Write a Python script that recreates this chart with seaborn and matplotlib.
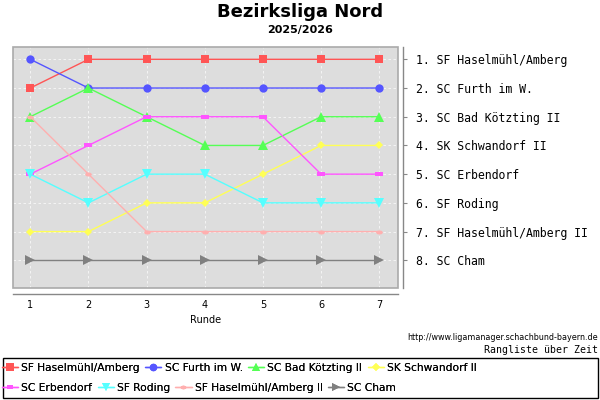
import matplotlib
matplotlib.use("Agg")
import matplotlib.pyplot as plt
import pandas as pd
import seaborn as sns
from matplotlib.lines import Line2D
from matplotlib.patches import Rectangle

# Data: rank per round
rounds = [1, 2, 3, 4, 5, 6, 7]
teams = ["SF Haselmühl/Amberg", "SC Furth im W.", "SC Bad Kötzting II", "SK Schwandorf II",
         "SC Erbendorf", "SF Roding", "SF Haselmühl/Amberg II", "SC Cham"]
ranks = {
    "SF Haselmühl/Amberg":    [2, 1, 1, 1, 1, 1, 1],
    "SC Furth im W.":         [1, 2, 2, 2, 2, 2, 2],
    "SC Bad Kötzting II":     [3, 2, 3, 4, 4, 3, 3],
    "SK Schwandorf II":       [7, 7, 6, 6, 5, 4, 4],
    "SC Erbendorf":           [5, 4, 3, 3, 3, 5, 5],
    "SF Roding":              [5, 6, 5, 5, 6, 6, 6],
    "SF Haselmühl/Amberg II": [3, 5, 7, 7, 7, 7, 7],
    "SC Cham":                [8, 8, 8, 8, 8, 8, 8],
}
final_labels = ["1. SF Haselmühl/Amberg", "2. SC Furth im W.", "3. SC Bad Kötzting II",
                "4. SK Schwandorf II", "5. SC Erbendorf", "6. SF Roding",
                "7. SF Haselmühl/Amberg II", "8. SC Cham"]

colors = ["#FF5555", "#5555FF", "#55FF55", "#FFFF55", "#FF55FF", "#55FFFF", "#FFAFAF", "#808080"]
rect_marker = [(-1, -0.55), (1, -0.55), (1, 0.55), (-1, 0.55), (-1, -0.55)]
ell_marker = [(-1, 0), (-0.7, 0.45), (0, 0.6), (0.7, 0.45), (1, 0), (0.7, -0.45), (0, -0.6), (-0.7, -0.45), (-1, 0)]
markers = ["s", "o", "^", "D", rect_marker, "v", ell_marker, ">"]
msizes = [6.0, 6.0, 6.5, 4.5, 5.5, 6.5, 5.0, 6.5]

rows = []
for t in teams:
    for r, v in zip(rounds, ranks[t]):
        rows.append({"Runde": r, "Rang": v, "Team": t})
df = pd.DataFrame(rows)

sns.set_style("white")
plt.rcParams["font.family"] = ["DejaVu Sans"]
plt.rcParams["text.color"] = "black"
plt.rcParams["axes.labelcolor"] = "black"
plt.rcParams["xtick.labelcolor"] = "black"
plt.rcParams["ytick.labelcolor"] = "black"

fig = plt.figure(figsize=(6, 4), dpi=100)
ax = fig.add_axes([13 / 600, 1 - 288 / 400, (397.5 - 13) / 600, (288 - 47) / 400])
ax.set_facecolor("#DDDDDD")

for i, t in enumerate(teams):
    sns.lineplot(data=df[df["Team"] == t], x="Runde", y="Rang", ax=ax, color=colors[i],
                 marker=markers[i], markersize=msizes[i], markeredgewidth=0,
                 linewidth=1.0, legend=False, zorder=3)

ax.set_xlim(0.703, 7.313)
ax.set_ylim(8.965, 0.571)
ax.set_xticks(rounds)
ax.yaxis.tick_right()
ax.set_yticks(range(1, 9))
ax.set_yticklabels(final_labels)
ax.grid(True, color="white", linestyle=(0, (3, 3)), linewidth=0.6, alpha=0.8)
ax.set_axisbelow(True)

for s in ["top", "left"]:
    ax.spines[s].set_visible(False)
for s in ["bottom", "right"]:
    ax.spines[s].set_position(("outward", 4))
    ax.spines[s].set_color("#888888")
    ax.spines[s].set_linewidth(1.0)
ax.tick_params(axis="x", length=3, color="#888888", labelsize=7, pad=2)
ax.tick_params(axis="y", length=3, color="#888888", pad=6, right=True, left=False,
               labelsize=8.3, labelfontfamily="DejaVu Sans Mono")
ax.set_xlabel("Runde", fontsize=7, labelpad=3)
ax.set_ylabel("")
ax.add_patch(Rectangle((0, 0), 1, 1, transform=ax.transAxes, fill=False,
                       edgecolor="#AAAAAA", linewidth=1.2, zorder=5, clip_on=False))

fig.text(0.5, 1 - 12 / 400, "Bezirksliga Nord", ha="center", va="center", fontsize=13, weight="bold")
fig.text(0.5, 1 - 30 / 400, "2025/2026", ha="center", va="center", fontsize=8, weight="bold")
fig.text(598 / 600, 1 - 338 / 400, "http://www.ligamanager.schachbund-bayern.de",
         ha="right", va="center", fontsize=5.8)
fig.text(598 / 600, 1 - 350 / 400, "Rangliste über Zeit", ha="right", va="center",
         fontsize=7.1, family="DejaVu Sans Mono")

# Legend: two rows in a box
fig.add_artist(Rectangle((3 / 600, 1 - 398 / 400), 595 / 600, 40 / 400, transform=fig.transFigure,
                         fill=False, edgecolor="black", linewidth=1.0))
handles = [Line2D([], [], color=colors[i], marker=markers[i], markersize=msizes[i] * 0.9,
                  markeredgewidth=0, linewidth=1.0) for i in range(len(teams))]
for row in range(2):
    idx = range(row * 4, row * 4 + 4)
    leg = fig.legend([handles[i] for i in idx], [teams[i] for i in idx], ncol=4,
                     loc="center left", bbox_to_anchor=(0.0, 1 - (368 + row * 20) / 400),
                     frameon=False, fontsize=7.7, handlelength=1.5, handletextpad=0.3,
                     columnspacing=0.5, borderpad=0.2, borderaxespad=0)
    fig.add_artist(leg)

fig.savefig("out.png", dpi=100)
